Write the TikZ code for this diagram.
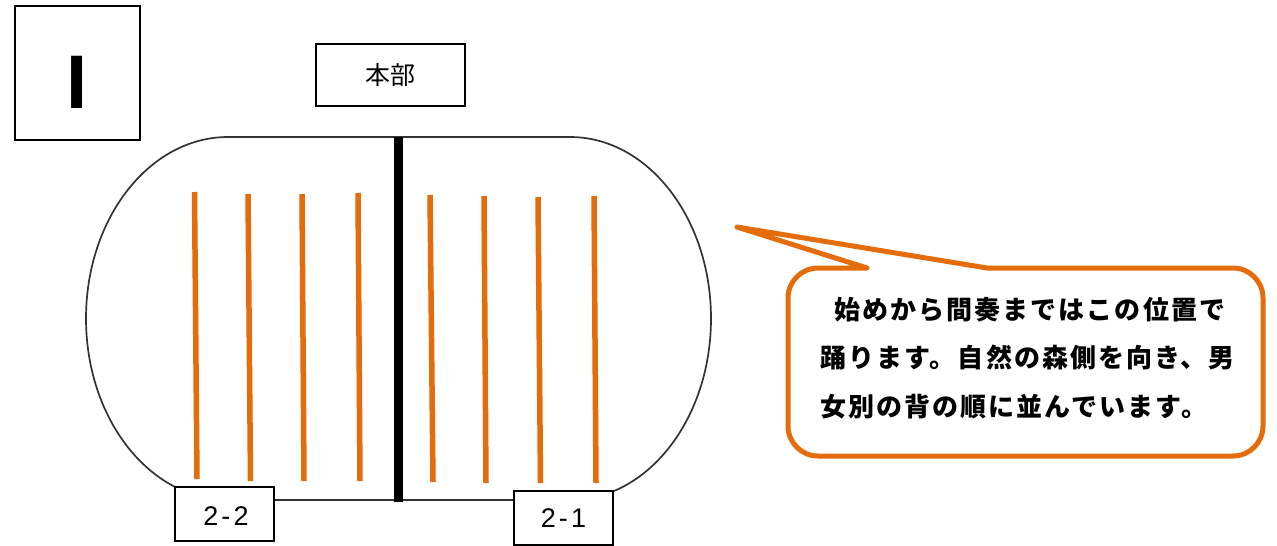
\documentclass[tikz,border=0pt]{standalone}
\usepackage{fontspec}
\setmainfont{Liberation Sans}
\newfontfamily\cjk{Noto Sans CJK JP}
\newfontfamily\cjkb[LetterSpace=8]{Noto Sans CJK JP}
\newfontfamily\libb{Liberation Sans}
\newfontfamily\cls[LetterSpace=12]{Liberation Sans}
\definecolor{dorange}{RGB}{228,108,10}
\tikzset{
  labelbox/.style={draw=black, line width=1.2pt, fill=white, inner sep=0pt},
  classbox/.style={labelbox, minimum width=99pt, minimum height=54pt},
  classtext/.style={inner sep=0pt, font=\cls\fontsize{27}{27}\selectfont},
  track/.style={draw=black!80, line width=1.7pt},
  divider/.style={draw=black, line width=9pt},
  row/.style={draw=dorange, line width=5.5pt},
  callout/.style={draw=dorange, line width=5pt, line join=round, fill=white},
}
\begin{document}
\begin{tikzpicture}[x=1pt,y=1pt]
\useasboundingbox (0,0) rectangle (1277,-546);
% scene number box
\node[labelbox, minimum width=125pt, minimum height=134pt] (scene) at (77.5,-73) {};
\node[font=\libb\bfseries\fontsize{76}{76}\selectfont, inner sep=0pt] (num) at (77.5,-82.5) {I};
% headquarters
\node[labelbox, minimum width=149pt, minimum height=62pt, font=\cjk\fontsize{25}{25}\selectfont] (hq) at (390.5,-75) {本部};
% track
\draw[track] (228,-137) -- (570,-137)
  arc[start angle=90, end angle=-90, x radius=141pt, y radius=181.5pt]
  -- (228,-500)
  arc[start angle=270, end angle=90, x radius=142pt, y radius=181.5pt] -- cycle;
\coordinate (dtop) at (398,-137);
\coordinate (dbot) at (398,-502);
\draw[divider] (dtop) -- (dbot);
% rows
\foreach \i/\xa/\ya/\xb/\yb in {1/194.5/192/197/479, 2/248/194/250.5/481, 3/302/194/304/481, 4/358/193/360/481,
  5/430/195/433/482, 6/484/196/486/483, 7/538/197/540.5/483, 8/594/196/596/483}{
  \coordinate (r\i a) at (\xa,-\ya);
  \coordinate (r\i b) at (\xb,-\yb);
  \draw[row] (r\i a) -- (r\i b);
}
% class labels
\node[classbox] (c22) at (224.5,-514) {};
\node[classtext] (t22) at (226,-516.5) {2-2};
\node[classbox] (c21) at (563.5,-518) {};
\node[classtext] (t21) at (563.5,-518) {2-1};
% callout
\coordinate (tip) at (737,-227);
\draw[callout] (987,-268) -- (1233,-268) arc[start angle=90,end angle=0,radius=30pt]
  -- (1263,-426) arc[start angle=0,end angle=-90,radius=30pt]
  -- (818,-456) arc[start angle=270,end angle=180,radius=30pt]
  -- (788,-298) arc[start angle=180,end angle=90,radius=30pt]
  -- (867,-268) -- (tip) -- cycle;
\node[anchor=base west, inner sep=0pt, align=left, font=\cjkb\bfseries\fontsize{26}{48.5}\selectfont] (note) at (820,-416)
  {\hspace*{14pt}始めから間奏まではこの位置で\\踊ります。自然の森側を向き、男\\女別の背の順に並んでいます。};
\end{tikzpicture}
\end{document}
